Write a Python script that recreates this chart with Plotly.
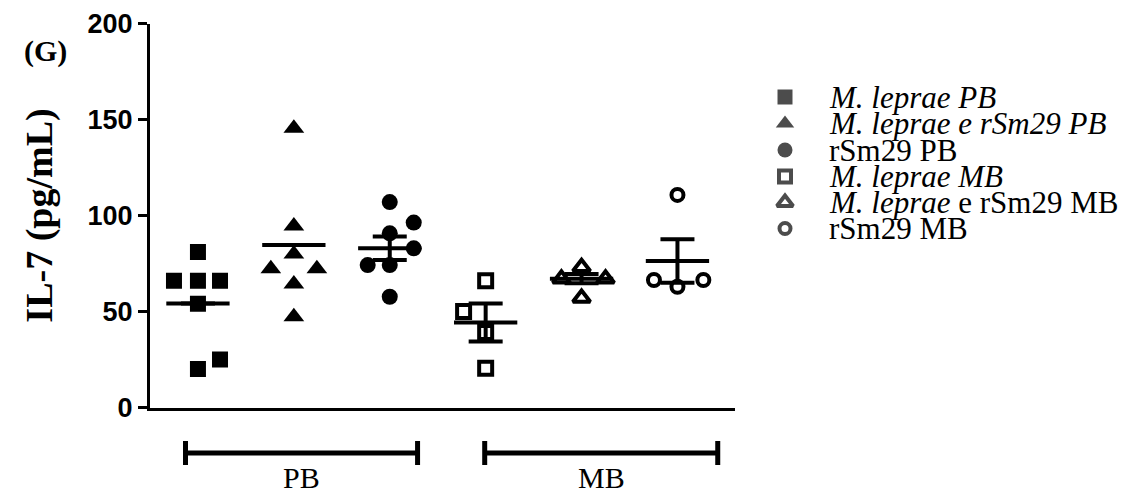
import plotly.graph_objects as go

# ---------------- data ----------------
group_names = ["M. leprae PB", "M. leprae e rSm29 PB", "rSm29 PB",
               "M. leprae MB", "M. leprae e rSm29 MB", "rSm29 MB"]
legend_labels = ["<i>M. leprae PB</i>", "<i>M. leprae e rSm29 PB</i>", "rSm29 PB",
                 "<i>M. leprae MB</i>", "<i>M. leprae</i> e rSm29 MB", "rSm29 MB"]

ml_pb = [81, 66, 66, 66, 54, 25, 20]
ml_rsm_pb = [145.4, 94.5, 79.9, 72.3, 72.3, 64.3, 47.3]
rsm_pb = [107, 96.3, 90.7, 82.9, 74.2, 74.2, 57.7]
ml_mb = [66, 50, 39, 20.5]
ml_rsm_mb = [73, 67, 67, 57]
rsm_mb = [110.7, 66.4, 66.4, 62.9]
values = [ml_pb, ml_rsm_pb, rsm_pb, ml_mb, ml_rsm_mb, rsm_mb]

# horizontal scatter offsets of the points within each column
offsets = [
    [0, -0.25, 0, 0.23, 0, 0.23, 0],
    [0, 0, 0, -0.24, 0.24, 0, 0],
    [0, 0.25, 0, 0.25, -0.23, 0, 0],
    [0, -0.23, 0, 0],
    [0, -0.21, 0.25, 0],
    [0, -0.245, 0.27, 0],
]

means = [54.2, 84.6, 82.9, 44.3, 67.1, 76.3]
sems = [0, 0, 6.1, 9.9, 2.4, 11.3]

y_ticks = [0, 50, 100, 150, 200]
bottom_groups = ["PB", "MB"]

# ---------------- styles ----------------
W, H = 1143, 493
px_left, px_right, px_top, px_bottom = 150, 735, 23.5, 407.5
symbols = ["square", "triangle-up", "circle", "square-open", "triangle-up-open", "circle-open"]
sizes = [16, 18, 16, 13, 15, 12]
SERIF = "Liberation Serif, Times New Roman, serif"
SANS = "Liberation Sans, Arial, sans-serif"

fig = go.Figure()

xpos = list(range(1, len(values) + 1))
for i, vals in enumerate(values):
    fig.add_trace(go.Scatter(
        x=[xpos[i] + o for o in offsets[i]], y=vals, mode="markers",
        name=group_names[i], showlegend=False,
        marker=dict(symbol=symbols[i], size=sizes[i], color="black",
                    line=dict(color="black", width=4 if "open" in symbols[i] else 0)),
    ))

# mean lines
mx, my = [], []
for i, m in enumerate(means):
    mx += [xpos[i] - 0.33, xpos[i] + 0.33, None]
    my += [m, m, None]
fig.add_trace(go.Scatter(x=mx, y=my, mode="lines", line=dict(color="black", width=4),
                         showlegend=False, hoverinfo="skip"))

# SEM error bars
fig.add_trace(go.Scatter(
    x=xpos, y=means, mode="markers", marker=dict(size=1, color="rgba(0,0,0,0)"),
    error_y=dict(type="data", array=sems, visible=True, color="black", thickness=4, width=17),
    showlegend=False, hoverinfo="skip"))

# manual legend in pixel coordinates (x2/y2 full-page subplot)
leg_rows = [97, 123.5, 150, 176.5, 202.5, 228.5]
fig.add_trace(go.Scatter(
    x=[785] * len(symbols), y=leg_rows, mode="markers", xaxis="x2", yaxis="y2",
    marker=dict(symbol=symbols, size=[15, 16, 15, 12, 14, 11], color="black",
                line=dict(color="black", width=[0, 0, 0, 4, 4, 4])),
    showlegend=False, hoverinfo="skip"))
for lbl, yy in zip(legend_labels, leg_rows):
    fig.add_annotation(x=827, y=yy, xref="x2", yref="y2", text=lbl, showarrow=False,
                       xanchor="left", yanchor="middle",
                       font=dict(family=SERIF, size=31, color="black"))

# group brackets under the axis
brackets = [(0.87, 3.29), (3.99, 6.42)]
for (x0, x1), lbl in zip(brackets, bottom_groups):
    fig.add_shape(type="line", xref="x", yref="y2", x0=x0, x1=x1, y0=453, y1=453,
                  line=dict(color="black", width=5))
    for xx in (x0, x1):
        fig.add_shape(type="line", xref="x", yref="y2", x0=xx, x1=xx, y0=441, y1=465,
                      line=dict(color="black", width=5))
    fig.add_annotation(x=(x0 + x1) / 2, y=477, xref="x", yref="y2", text=lbl,
                       showarrow=False, xanchor="center", yanchor="middle",
                       font=dict(family=SERIF, size=30, color="black"))

fig.add_annotation(x=45, y=51, xref="x2", yref="y2", text="<b>(G)</b>", showarrow=False,
                   xanchor="center", yanchor="middle",
                   font=dict(family=SERIF, size=30, color="black"))

fig.update_layout(
    width=W, height=H, margin=dict(l=0, r=0, t=0, b=0),
    paper_bgcolor="white", plot_bgcolor="rgba(0,0,0,0)", showlegend=False,
    xaxis=dict(domain=[px_left / W, px_right / W], range=[0.5, 6.6], showgrid=False,
               zeroline=False, showline=True, linecolor="black", linewidth=3,
               showticklabels=False, ticks="", fixedrange=True, anchor="y"),
    yaxis=dict(domain=[(H - px_bottom) / H, (H - px_top) / H], range=[0, 200],
               tickvals=y_ticks, ticks="outside", ticklen=9, tickwidth=3, tickcolor="black",
               showgrid=False, zeroline=False, showline=True, linecolor="black", linewidth=3,
               tickfont=dict(family=SANS, size=27, color="black", weight="bold"),
               title=dict(text="<b>IL-7 (pg/mL)</b>", standoff=24,
                          font=dict(family=SERIF, size=38, color="black")),
               automargin=False, anchor="x"),
    xaxis2=dict(domain=[0, 1], range=[0, W], visible=False, anchor="y2", fixedrange=True),
    yaxis2=dict(domain=[0, 1], range=[H, 0], visible=False, anchor="x2", fixedrange=True),
)

fig.write_html("out.html")
